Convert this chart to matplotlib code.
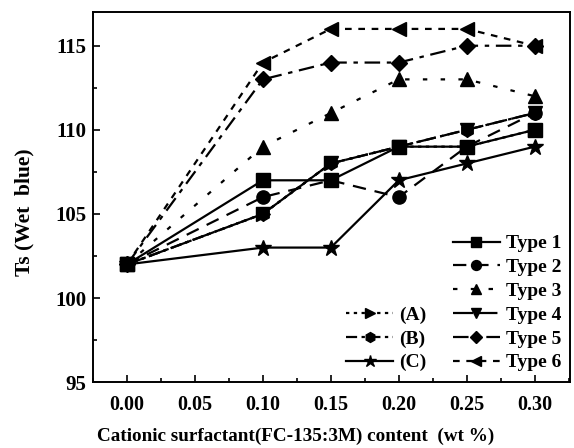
import matplotlib
matplotlib.use("Agg")
import matplotlib.pyplot as plt
from matplotlib.ticker import MultipleLocator

# data
content = [0.00, 0.10, 0.15, 0.20, 0.25, 0.30]
type1 = [102, 107, 107, 109, 109, 110]
type2 = [102, 106, 107, 106, 109, 111]
type3 = [102, 109, 111, 113, 113, 112]
type4 = [102, 105, 108, 109, 110, 111]
type5 = [102, 113, 114, 114, 115, 115]
type6 = [102, 114, 116, 116, 116, 115]
ser_a = [102, 105, 108, 109, 109, 110]
ser_b = [102, 105, 108, 109, 110, 111]
ser_c = [102, 103, 103, 107, 108, 109]
xtick_labels = ['0.00', '0.05', '0.10', '0.15', '0.20', '0.25', '0.30']

plt.rcParams['font.family'] = 'Liberation Serif'
plt.rcParams['font.weight'] = 'bold'

fig = plt.figure(figsize=(5.74, 4.48), dpi=100)
ax = fig.add_axes([0.162, 0.147, 0.831, 0.826])

kw = dict(color='black', lw=1.6, ms=9.5)
h1, = ax.plot(content, type1, '-', marker='s', label='Type 1', **kw)
h2, = ax.plot(content, type2, marker='o', dashes=(6, 4), label='Type 2', **kw)
h3, = ax.plot(content, type3, marker='^', dashes=(2, 6), label='Type 3', **kw)
h4, = ax.plot(content, type4, marker='v', dashes=(9, 2), label='Type 4', **kw)
h5, = ax.plot(content, type5, marker='D', dashes=(7, 3, 2, 3), label='Type 5', ms=8.5, color='black', lw=1.6)
h6, = ax.plot(content, type6, marker='<', dashes=(3, 3), label='Type 6', **kw)
ha, = ax.plot(content, ser_a, marker='>', dashes=(1.5, 2), label='(A)', **kw)
hb, = ax.plot(content, ser_b, marker='h', dashes=(5, 2, 1.5, 2), label='(B)', **kw)
hc, = ax.plot(content, ser_c, '-', marker='*', label='(C)', color='black', lw=1.6, ms=12)

ax.set_xlim(-0.025, 0.326)
ax.set_ylim(95, 117)
ax.xaxis.set_minor_locator(MultipleLocator(0.025))
ax.yaxis.set_major_locator(MultipleLocator(5))
ax.yaxis.set_minor_locator(MultipleLocator(2.5))
ax.set_xticks(content[:1] + [0.05] + content[1:])
ax.set_xticklabels(xtick_labels)
ax.tick_params(direction='in', which='both', width=1.2)
ax.tick_params(which='major', length=5)
ax.tick_params(which='minor', length=3)
ax.tick_params(axis='x', labelsize=14.5, pad=9)
ax.tick_params(axis='y', labelsize=15, pad=5)
for s in ax.spines.values():
    s.set_linewidth(1.4)

ax.set_xlabel('Cationic surfactant(FC-135:3M) content  (wt %)', fontsize=13.8,
              fontweight='bold', va='center')
ax.xaxis.set_label_coords(0.424, -0.146)
ax.set_ylabel('Ts (Wet  blue)', fontsize=15.5, fontweight='bold', va='center')
ax.yaxis.set_label_coords(-0.143, 0.46)

leg1 = ax.legend(handles=[h1, h2, h3, h4, h5, h6], loc='lower right', bbox_to_anchor=(1.01, -0.008),
                 frameon=False, fontsize=14, handlelength=2.4, handletextpad=0.3,
                 labelspacing=0.32, borderaxespad=0.3, markerscale=0.75)
ax.add_artist(leg1)
ax.legend(handles=[ha, hb, hc], loc='lower right', bbox_to_anchor=(0.727, -0.008),
          frameon=False, fontsize=14, handlelength=2.4, handletextpad=0.3,
          labelspacing=0.32, borderaxespad=0.3, markerscale=0.75)

fig.savefig('out.png', dpi=100)
